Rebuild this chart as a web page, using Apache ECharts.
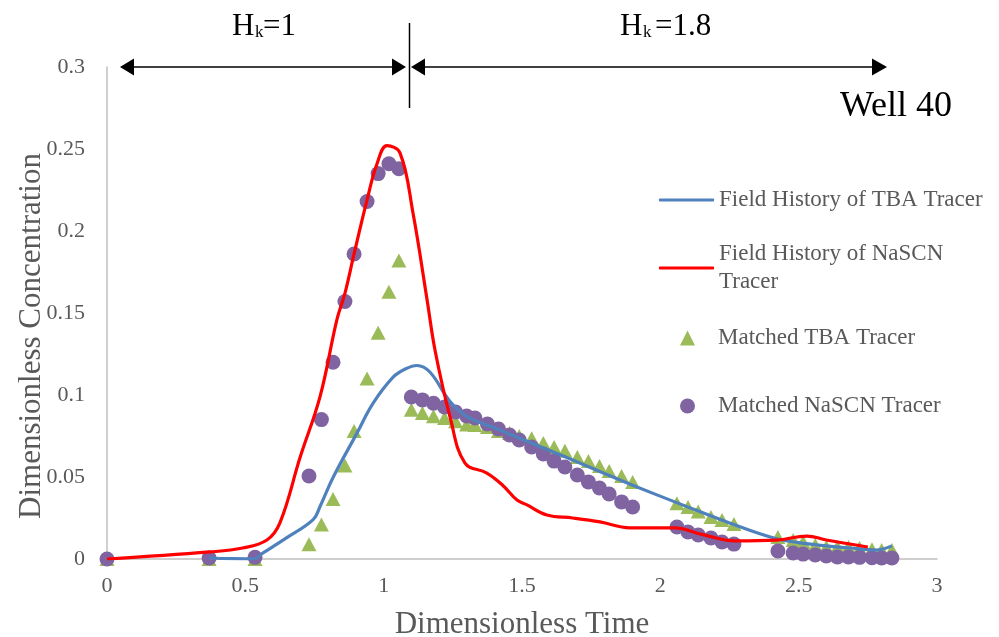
<!DOCTYPE html>
<html><head><meta charset="utf-8">
<script src="https://cdn.jsdelivr.net/npm/echarts@6/dist/echarts.min.js"></script>
<style>html,body{margin:0;padding:0;background:#fff}#c{width:999px;height:637px}</style>
</head><body><div id="c"></div>
<script>
// Field history curves
const tbaFieldX = [0.369,0.45,0.53,0.564,0.65,0.745,0.77,0.818,0.903,0.962,1.035,1.08,1.12,1.167,1.24,1.3,1.4,1.5,1.66,1.8,1.9,2.08,2.25,2.41,2.5,2.6,2.685,2.78,2.837];
const tbaFieldY = [0.0006,0.0002,0.0001,0.0037,0.013,0.024,0.032,0.05,0.0766,0.095,0.111,0.116,0.118,0.114,0.096,0.087,0.08,0.073,0.062,0.052,0.045,0.033,0.022,0.0128,0.01,0.008,0.0067,0.0055,0.008];
const naFieldX = [0,0.372,0.49,0.578,0.625,0.698,0.77,0.831,0.86,0.893,0.94,0.976,1.012,1.059,1.106,1.157,1.186,1.24,1.294,1.373,1.43,1.482,1.518,1.59,1.684,1.782,1.89,2.05,2.15,2.27,2.42,2.53,2.6,2.75];
const naFieldY = [0,0.0043,0.0067,0.0116,0.022,0.062,0.099,0.146,0.162,0.186,0.219,0.241,0.252,0.2476,0.211,0.158,0.127,0.0866,0.0585,0.0524,0.045,0.036,0.033,0.0268,0.025,0.0226,0.019,0.019,0.015,0.011,0.0115,0.014,0.0116,0.0073];
// Matched (simulated) points share the same time values
const matchedX = [0,0.369,0.535,0.73,0.775,0.817,0.86,0.893,0.94,0.98,1.019,1.055,1.10,1.14,1.18,1.22,1.26,1.30,1.33,1.375,1.415,1.455,1.49,1.535,1.577,1.616,1.655,1.70,1.74,1.78,1.815,1.86,1.90,2.06,2.10,2.137,2.183,2.223,2.266,2.425,2.48,2.516,2.56,2.60,2.64,2.68,2.72,2.765,2.80,2.837];
const matchedTBA = [0,0,0,0.009,0.021,0.0366,0.057,0.078,0.11,0.138,0.163,0.182,0.091,0.089,0.087,0.086,0.084,0.082,0.0817,0.0805,0.078,0.0768,0.075,0.0737,0.0707,0.0683,0.066,0.0622,0.0597,0.0567,0.0537,0.0506,0.047,0.034,0.0317,0.029,0.0256,0.0238,0.0213,0.0134,0.0116,0.0104,0.0085,0.0073,0.0073,0.0073,0.0067,0.006,0.0055,0.0055];
const matchedNaSCN = [0,0.0006,0.001,0.0506,0.085,0.12,0.157,0.186,0.218,0.235,0.241,0.238,0.0988,0.097,0.095,0.0927,0.0896,0.0872,0.086,0.0823,0.0793,0.0756,0.0726,0.0683,0.064,0.0597,0.0561,0.0512,0.047,0.0433,0.0396,0.0348,0.0317,0.0195,0.0165,0.0146,0.0128,0.0104,0.0091,0.0049,0.0037,0.003,0.0024,0.0018,0.0012,0.0012,0.001,0.0008,0.0006,0.0006];
const seriesNames = ['Field History of TBA Tracer','Field History of NaSCN Tracer','Matched TBA Tracer','Matched NaSCN Tracer'];
const xTicks = [0,0.5,1,1.5,2,2.5,3];
const yTicks = [0,0.05,0.1,0.15,0.2,0.25,0.3];

const zip = (xs, ys) => xs.map((x, i) => [x, ys[i]]);
const FONT = '"Liberation Serif","Times New Roman",serif';
const GRAY = '#595959';

const chart = echarts.init(document.getElementById('c'), null, {renderer:'canvas'});
const legendBase = {padding:0, orient:'horizontal', selectedMode:false,
  textStyle:{fontFamily:FONT, fontSize:23, color:GRAY, lineHeight:28}};
chart.setOption({
  animation:false,
  backgroundColor:'#fff',
  grid:{left:107, right:62, top:67, bottom:78, containLabel:false, outerBoundsMode:'none'},
  xAxis:{type:'value', min:xTicks[0], max:xTicks[xTicks.length-1], interval:0.5,
    axisLine:{show:true, onZero:false, lineStyle:{color:'#BFBFBF', width:1.5}},
    axisTick:{show:false}, splitLine:{show:false},
    axisLabel:{fontFamily:FONT, fontSize:22, color:GRAY, margin:16},
    name:'Dimensionless Time', nameLocation:'middle', nameGap:50,
    nameTextStyle:{fontFamily:FONT, fontSize:31, color:GRAY}},
  yAxis:{type:'value', min:yTicks[0], max:yTicks[yTicks.length-1], interval:0.05,
    axisLine:{show:true, lineStyle:{color:'#BFBFBF', width:1.5}},
    axisTick:{show:false}, splitLine:{show:false},
    axisLabel:{fontFamily:FONT, fontSize:22, color:GRAY, margin:22},
    name:'Dimensionless Concentration', nameLocation:'middle', nameGap:60, nameMoveOverlap:false,
    nameTextStyle:{fontFamily:FONT, fontSize:31, color:GRAY, padding:[0,46,0,0]}},
  legend:[
    Object.assign({}, legendBase, {data:[seriesNames[0]], left:659, top:186, itemWidth:55, itemHeight:3, icon:'roundRect'}),
    Object.assign({}, legendBase, {data:[seriesNames[1]], left:659, top:226, itemWidth:55, itemHeight:3, icon:'roundRect',
      formatter: n => 'Field History of NaSCN\nTracer',
      textStyle:{fontFamily:FONT, fontSize:23, color:GRAY, lineHeight:28, padding:[28,0,0,0]}}),
    Object.assign({}, legendBase, {data:[seriesNames[2]], left:680, top:324, itemWidth:15, itemHeight:15,
      textStyle:{fontFamily:FONT, fontSize:23, color:GRAY, lineHeight:28, padding:[0,0,0,18]}}),
    Object.assign({}, legendBase, {data:[seriesNames[3]], left:680, top:392, itemWidth:15, itemHeight:15,
      textStyle:{fontFamily:FONT, fontSize:23, color:GRAY, lineHeight:28, padding:[0,0,0,18]}})
  ],
  series:[
    {name:seriesNames[0], type:'line', data:zip(tbaFieldX, tbaFieldY), symbol:'none',
      smooth:0.4, lineStyle:{color:'#4F81BD', width:3.2}, itemStyle:{color:'#4F81BD'}},
    {name:seriesNames[1], type:'line', data:zip(naFieldX, naFieldY), symbol:'none',
      smooth:0.4, lineStyle:{color:'#FF0000', width:3.2}, itemStyle:{color:'#FF0000'}},
    {name:seriesNames[2], type:'scatter', data:zip(matchedX, matchedTBA), symbol:'triangle',
      symbolSize:[15,14], itemStyle:{color:'#9BBB59', opacity:1}},
    {name:seriesNames[3], type:'scatter', data:zip(matchedX, matchedNaSCN), symbol:'circle',
      symbolSize:15, itemStyle:{color:'#8064A2', opacity:1}}
  ],
  graphic:[
    // left double arrow
    {type:'line', shape:{x1:130, y1:67, x2:396, y2:67}, style:{stroke:'#404040', lineWidth:2}},
    {type:'polygon', shape:{points:[[120,67],[134,58.5],[134,75.5]]}, style:{fill:'#000'}},
    {type:'polygon', shape:{points:[[406,67],[392,58.5],[392,75.5]]}, style:{fill:'#000'}},
    // divider
    {type:'line', shape:{x1:409.5, y1:23, x2:409.5, y2:108}, style:{stroke:'#000', lineWidth:1.5}},
    // right double arrow
    {type:'line', shape:{x1:420, y1:67, x2:876, y2:67}, style:{stroke:'#404040', lineWidth:2}},
    {type:'polygon', shape:{points:[[411,67],[425,58.5],[425,75.5]]}, style:{fill:'#000'}},
    {type:'polygon', shape:{points:[[887,67],[872,58.5],[872,75.5]]}, style:{fill:'#000'}},
    // labels
    {type:'text', x:232, y:27, style:{text:'H', font:'31px '+FONT, fill:'#000', verticalAlign:'middle'}},
    {type:'text', x:255, y:33, style:{text:'k', font:'17px '+FONT, fill:'#000', verticalAlign:'middle'}},
    {type:'text', x:263, y:27, style:{text:'=1', font:'31px '+FONT, fill:'#000', verticalAlign:'middle'}},
    {type:'text', x:620, y:27, style:{text:'H', font:'31px '+FONT, fill:'#000', verticalAlign:'middle'}},
    {type:'text', x:643, y:33, style:{text:'k', font:'17px '+FONT, fill:'#000', verticalAlign:'middle'}},
    {type:'text', x:655, y:27, style:{text:'=1.8', font:'31px '+FONT, fill:'#000', verticalAlign:'middle'}},
    {type:'text', x:840, y:107, style:{text:'Well 40', font:'36px '+FONT, fill:'#000', verticalAlign:'middle'}}
  ]
});
</script>
</body></html>
